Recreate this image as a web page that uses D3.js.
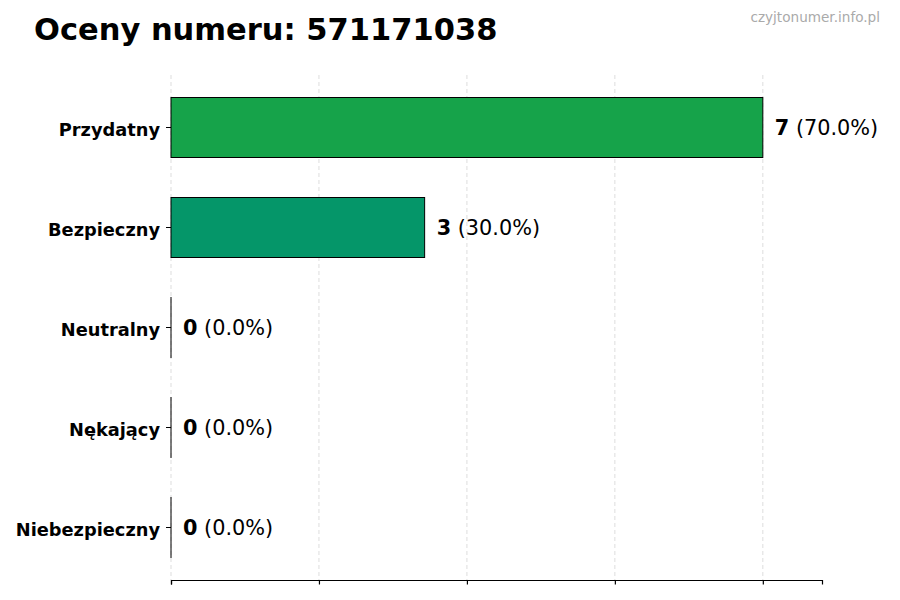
<!DOCTYPE html>
<html>
<head>
<meta charset="utf-8">
<script src="https://cdn.jsdelivr.net/npm/d3@7"></script>
<style>
  body { margin: 0; background: #fff; }
  svg { font-family: "DejaVu Sans", sans-serif; }
</style>
</head>
<body>
<div id="chart"></div>
<script>
// dane z wykresu
const categories = ["Przydatny", "Bezpieczny", "Neutralny", "Nękający", "Niebezpieczny"];
const counts = [7, 3, 0, 0, 0];
const percents = ["70.0%", "30.0%", "0.0%", "0.0%", "0.0%"];
const barColors = ["#16a34a", "#059669", "#6b7280", "#dc6b26", "#dc2626"];
const xTicks = [0, 1.75, 3.5, 5.25, 7];
const xMax = 7.7;

const width = 900, height = 600;
const margin = {top: 75, right: 78, bottom: 20, left: 171};

const svg = d3.select("#chart").append("svg")
    .attr("width", width)
    .attr("height", height);

const x = d3.scaleLinear()
    .domain([0, xMax])
    .range([margin.left, width - margin.right]);

const y = d3.scaleBand()
    .domain(categories)
    .range([margin.top, height - margin.bottom])
    .paddingInner(0.4)
    .paddingOuter(0.225);

// tytuł
svg.append("text")
    .attr("x", 34)
    .attr("y", 40)
    .attr("font-size", "30.5px")
    .attr("font-weight", "bold")
    .attr("fill", "#000")
    .text("Oceny numeru: 571171038");

svg.append("text")
    .attr("x", 880)
    .attr("y", 22)
    .attr("text-anchor", "end")
    .attr("font-size", "13.6px")
    .attr("fill", "#aaaaaa")
    .text("czyjtonumer.info.pl");

// siatka
svg.append("g")
    .selectAll("line")
    .data(xTicks)
    .enter().append("line")
    .attr("x1", d => x(d))
    .attr("x2", d => x(d))
    .attr("y1", margin.top)
    .attr("y2", height - margin.bottom)
    .attr("stroke", "#d4d4d4")
    .attr("stroke-width", 0.8)
    .attr("stroke-dasharray", "4,3");

// słupki
svg.append("g")
    .selectAll("rect")
    .data(categories)
    .enter().append("rect")
    .attr("x", x(0))
    .attr("y", d => y(d))
    .attr("width", (d, i) => Math.max(x(counts[i]) - x(0), 0.01))
    .attr("height", y.bandwidth())
    .attr("fill", (d, i) => barColors[i])
    .attr("stroke", "#000")
    .attr("stroke-width", 1);

// etykiety wartości
const labels = svg.append("g")
    .selectAll("text")
    .data(categories)
    .enter().append("text")
    .attr("x", (d, i) => x(counts[i]) + 12)
    .attr("y", d => y(d) + y.bandwidth() / 2)
    .attr("dy", "0.38em")
    .attr("font-size", "20.8px")
    .attr("fill", "#000");
labels.append("tspan")
    .attr("font-weight", "bold")
    .text((d, i) => counts[i]);
labels.append("tspan")
    .text((d, i) => " (" + percents[i] + ")");

// oś X
const xAxis = svg.append("g")
    .attr("transform", `translate(0,${height - margin.bottom})`)
    .call(d3.axisBottom(x).tickValues(xTicks).tickFormat("").tickSizeOuter(0).tickSize(4.5));
xAxis.select(".domain").attr("stroke", "#000").attr("stroke-width", 1.2);
xAxis.selectAll(".tick line").attr("stroke", "#000").attr("stroke-width", 1.2);

// oś Y
const yAxis = svg.append("g")
    .attr("transform", `translate(${margin.left},0)`)
    .call(d3.axisLeft(y).tickSize(5).tickPadding(6));
yAxis.select(".domain").remove();
yAxis.selectAll(".tick line").attr("stroke", "#000").attr("stroke-width", 1);
yAxis.selectAll(".tick text")
    .attr("dy", "0.45em")
    .attr("font-family", "DejaVu Sans, sans-serif")
    .attr("font-size", "17.8px")
    .attr("font-weight", "bold")
    .attr("fill", "#000");
</script>
</body>
</html>
